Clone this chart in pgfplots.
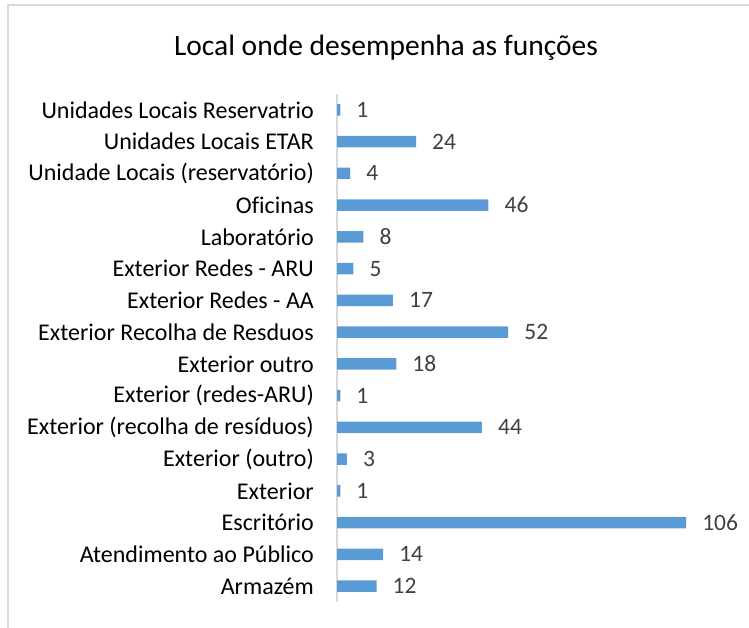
\documentclass[border=0pt]{standalone}
\usepackage{pgfplots}
\pgfplotsset{compat=1.18}
\usepackage{fontspec}
\setmainfont{Carlito}[Ligatures=NoCommon]
\definecolor{barblue}{HTML}{5B9BD5}
\definecolor{axgray}{HTML}{D9D9D9}
\definecolor{dlgray}{HTML}{404040}
\begin{document}
\begin{tikzpicture}[x=1pt,y=1pt]
\path[use as bounding box] (0,0) rectangle (749,-627);
\draw[axgray, line width=1.5pt] (8,-5) rectangle (820,-700);
\node[anchor=base, font=\fontsize{29.5}{30}\selectfont] at (386,-55) {Local onde desempenha as funções};
\begin{axis}[
  at={(337pt,-602pt)}, anchor=south west,
  scale only axis, width=382pt, height=508pt,
  xbar, bar width=11.5pt,
  xmin=0, xmax=116, ymin=-0.5, ymax=15.5,
  axis x line=none,
  axis y line*=left,
  y axis line style={-, draw=axgray, line width=1.5pt},
  xtick=\empty,
  ytick={0,...,15},
  yticklabels={Armazém,Atendimento ao Público,Escritório,Exterior,Exterior (outro),Exterior (recolha de resíduos),Exterior (redes-ARU),Exterior outro,Exterior Recolha de Resduos,Exterior Redes - AA,Exterior Redes - ARU,Laboratório,Oficinas,Unidade Locais (reservatório),Unidades Locais ETAR,Unidades Locais Reservatrio},
  major tick length=0pt,
  yticklabel style={anchor=east, inner sep=0pt, xshift=-23pt, font=\fontsize{24}{25}\selectfont, text=black},
  /pgf/number format/assume math mode=true,
  nodes near coords,
  every node near coord/.append style={anchor=west, inner sep=0pt, xshift=16pt, font=\fontsize{23.5}{24}\selectfont, text=dlgray},
  clip=false,
]
\addplot[fill=barblue, draw=none] coordinates {
(12,0) (14,1) (106,2) (1,3) (3,4) (44,5) (1,6) (18,7) (52,8) (17,9) (5,10) (8,11) (46,12) (4,13) (24,14) (1,15)
};
\end{axis}
\end{tikzpicture}
\end{document}
